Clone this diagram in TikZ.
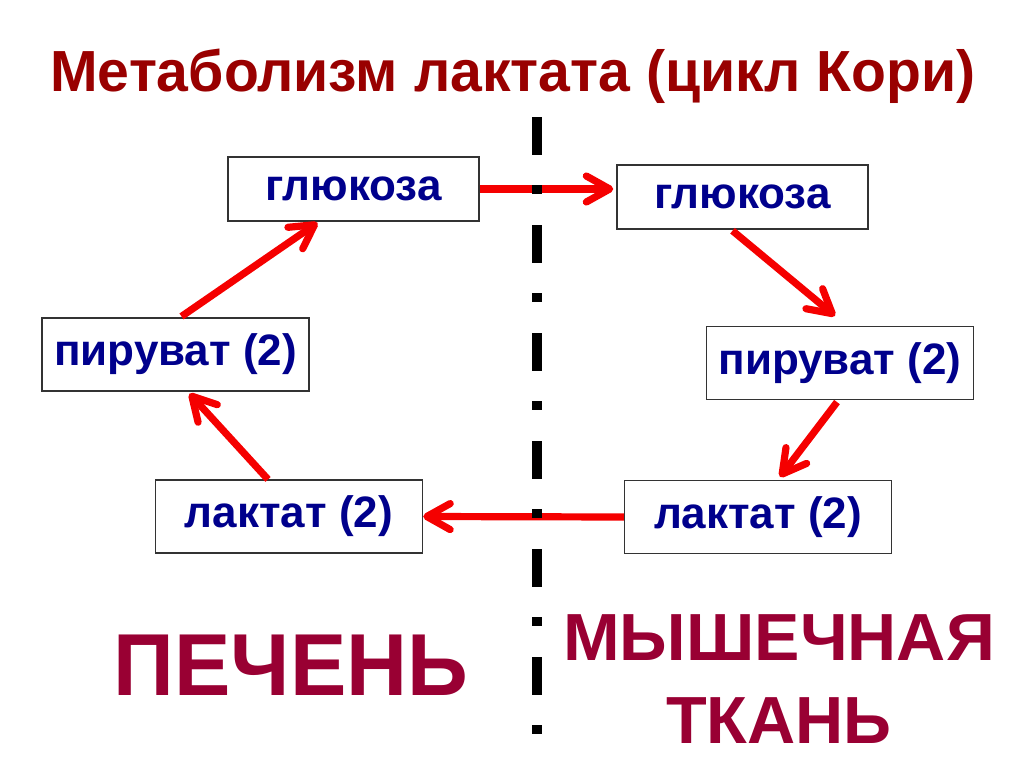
\documentclass[tikz,border=0pt]{standalone}
\usepackage{fontspec}
\setmainfont{Liberation Sans}
\usetikzlibrary{arrows.meta,calc}
\definecolor{titlered}{RGB}{153,0,0}
\definecolor{boxblue}{RGB}{0,0,140}
\definecolor{organred}{RGB}{153,0,51}
\definecolor{arrowred}{RGB}{245,0,0}

\begin{document}
\begin{tikzpicture}[x=0.75pt,y=0.75pt,yscale=-1,xscale=1,
  box/.style={draw=black!80,line width=1.1pt,fill=white,text=boxblue,inner sep=0pt,
    font=\fontsize{33}{40}\selectfont\bfseries},
  gbox/.style={box,minimum width=188.25pt,minimum height=48pt},
  pbox/.style={box,minimum width=200.25pt,minimum height=54.5pt},
  flow/.style={draw=arrowred,line width=5.4pt,-{Straight Barb[length=17.5pt,width=19.5pt,round]}},
  organ/.style={text=organred,anchor=base,inner sep=0pt}]
\useasboundingbox (0,0) rectangle (1024,767);

%Title
\node[anchor=base,text=titlered,inner sep=0pt,xscale=0.985,font=\fontsize{43.5}{50}\selectfont\bfseries] (title) at (513,92) {Метаболизм лактата (цикл Кори)};

%Shape: Rectangles, liver side
\node[gbox] (gluL) at (353.5,189) {глюкоза};
\node[pbox] (pyrL) at (175.5,354.5) {пируват (2)};
\node[pbox] (lacL) at (289,516.5) {лактат (2)};
%Shape: Rectangles, muscle side
\node[gbox] (gluR) at (742.5,197) {глюкоза};
\node[pbox] (pyrR) at (840,363) {пируват (2)};
\node[pbox] (lacR) at (758,517) {лактат (2)};

%Arrows
\draw[flow] (gluL.east) -- ($(gluL.east -| gluR.west)+(-3,0)$);
\draw[flow] ($(gluR.south)+(-10,1)$) -- ($(pyrR.north)+(-5,-10)$);
\draw[flow] ($(pyrR.south)+(-3,2)$) -- ($(lacR.north)+(22,-3)$);
\draw[flow] (lacR.west) -- (lacL.east);
\draw[flow] ($(lacL.north)+(-21,0)$) -- ($(pyrL.south)+(14,2)$);
\draw[flow] ($(pyrL.north)+(6,-1)$) -- ($(gluL.south)+(-36,1)$);

%Straight Lines: border between organs
\draw[line width=7.5pt,dash pattern={on 28.5pt off 22.5pt on 6.75pt off 23.25pt}] (537,117) -- (537,740);

%Organ names
\node[organ,xscale=0.96,font=\fontsize{66}{70}\selectfont\bfseries] (liver) at (291,695) {ПЕЧЕНЬ};
\node[organ,xscale=1.02,font=\fontsize{50}{60}\selectfont\bfseries] (muscle) at (779,660) {МЫШЕЧНАЯ};
\node[organ,font=\fontsize{50}{60}\selectfont\bfseries] (tissue) at (779,743) {ТКАНЬ};

\end{tikzpicture}
\end{document}
